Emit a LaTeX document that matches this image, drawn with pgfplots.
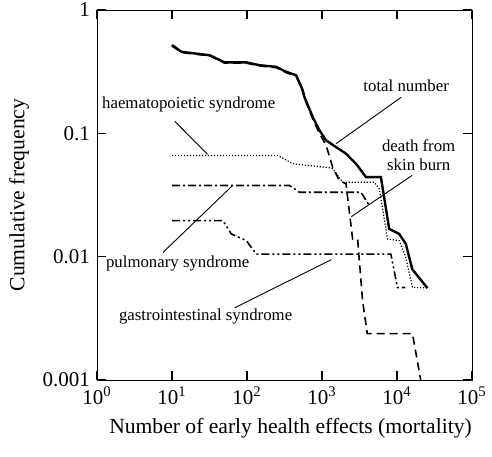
\documentclass[border=0pt]{standalone}
\usepackage{fontspec}
\setmainfont{Liberation Serif}
\usepackage{pgfplots}
\pgfplotsset{compat=1.18}
\newcommand{\ann}{\fontsize{8.4}{9.5}\selectfont}
\begin{document}
\begin{tikzpicture}
\begin{axis}[
  at={(0,0)}, anchor=south west, scale only axis,
  width=187.5pt, height=185pt,
  xmode=log, ymode=log, xmin=1, xmax=1e5, ymin=1e-3, ymax=1,
  log basis x=10, log basis y=10,
  xtick={1,10,100,1000,10000,100000},
  xticklabels={10\textsuperscript{0},10\textsuperscript{1},10\textsuperscript{2},10\textsuperscript{3},10\textsuperscript{4},10\textsuperscript{5}},
  ytick={0.001,0.01,0.1,1}, yticklabels={0.001,0.01,0.1,1},
  tick align=inside,
  major tick length=4.5pt, minor tick length=2.5pt,
  every major tick/.append style={black, line width=0.6pt},
  every minor tick/.append style={black, line width=0.55pt},
  xlabel={Number of early health effects (mortality)},
  ylabel={Cumulative frequency},
  xlabel style={xshift=3pt},
  tick label style={font=\fontsize{10.5}{12}\selectfont},
  label style={font=\fontsize{10.8}{13}\selectfont},
]
% total number
\addplot[black, line width=1.2pt] coordinates {
(10,0.52) (13.4,0.458) (31.8,0.43) (50.4,0.376) (98,0.376) (147,0.357) (245,0.346) (331,0.316) (452,0.296) (553,0.224) (583,0.197) (752,0.136) (923,0.106) (1133,0.0877) (1540,0.0774) (2090,0.0684) (2840,0.0567) (3860,0.0442) (6100,0.0442) (7870,0.0168) (10700,0.0153) (13100,0.0127) (16000,0.0079) (25500,0.00556)};
% death from skin burn
\addplot[black, line width=0.8pt, dash pattern=on 4pt off 2.5pt] coordinates {
(10,0.51) (13.4,0.452) (31.8,0.425) (50.4,0.371) (98,0.371) (147,0.352) (245,0.341) (331,0.311) (452,0.291) (553,0.22) (583,0.193) (752,0.131) (923,0.1) (1133,0.08) (1388,0.0532) (1703,0.0415) (2090,0.039) (2560,0.0139) (2985,0.0139) (3475,0.00439) (4015,0.00238) (16070,0.00238) (20700,0.001)};
% haematopoietic
\addplot[black, line width=0.6pt, dash pattern=on 0.6pt off 0.9pt] coordinates {
(10,0.0662) (258,0.0662) (408,0.0567) (1254,0.0526) (1390,0.0516) (1884,0.0402) (4970,0.0402) (5800,0.0355) (7480,0.0139) (10700,0.0135) (13100,0.0099) (16070,0.00562) (25500,0.0056)};
% pulmonary
\addplot[black, line width=0.8pt, dash pattern=on 4pt off 1.5pt on 1pt off 1.5pt] coordinates {
(10,0.0378) (369,0.0378) (500,0.0333) (3300,0.0333) (4270,0.026)};
% gastrointestinal
\addplot[black, line width=0.8pt, dash pattern=on 4pt off 1.5pt on 1pt off 1.5pt on 1pt off 1.5pt] coordinates {
(10,0.0196) (47.8,0.0196) (61.7,0.0153) (97.8,0.0135) (133,0.0105) (8280,0.0105) (10160,0.00562) (12900,0.00562)};
% annotations
\node[font=\ann] at (axis cs:13250,0.241) {total number};
\draw[line width=0.45pt] (axis cs:11380,0.196) -- (axis cs:1540,0.0825);
\node[font=\ann] at (axis cs:16.7,0.172) {haematopoietic syndrome};
\draw[line width=0.45pt] (axis cs:10.9,0.125) -- (axis cs:29.9,0.0675);
\node[font=\ann, align=center] at (axis cs:19450,0.0668) {death from\\skin burn};
\draw[line width=0.45pt] (axis cs:15900,0.0456) -- (axis cs:2460,0.0211);
\node[font=\ann] at (axis cs:11.9,0.00877) {pulmonary syndrome};
\draw[line width=0.45pt] (axis cs:7.55,0.0108) -- (axis cs:64.4,0.0378);
\node[font=\ann] at (axis cs:28.1,0.00325) {gastrointestinal syndrome};
\draw[line width=0.45pt] (axis cs:68.4,0.00385) -- (axis cs:1334,0.00946);
\end{axis}
\pgfresetboundingbox
\useasboundingbox (-48.5pt,-38pt) rectangle (197.5pt,190pt);
\end{tikzpicture}
\end{document}
